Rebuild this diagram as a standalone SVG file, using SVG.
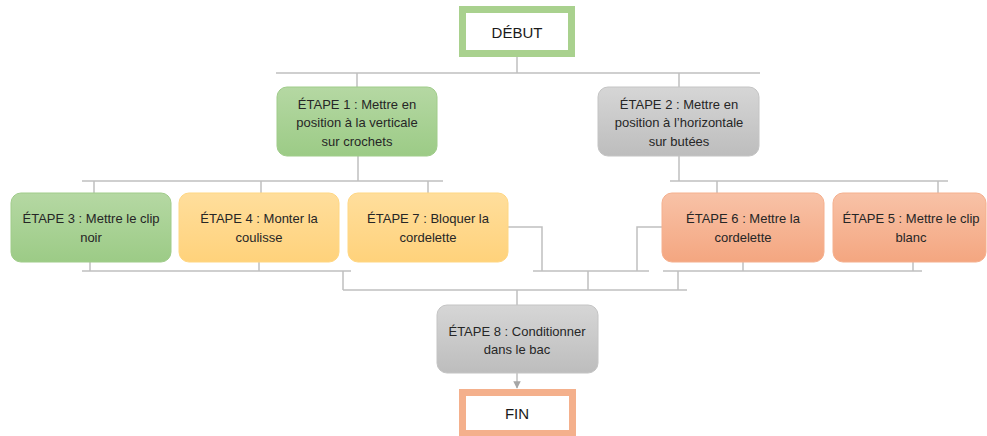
<svg xmlns="http://www.w3.org/2000/svg" width="987" height="436" viewBox="0 0 987 436">
<defs>
<linearGradient id="gGreen" x1="0" y1="0" x2="0" y2="1"><stop offset="0" stop-color="#b5d8a3"/><stop offset="1" stop-color="#9ccb86"/></linearGradient>
<linearGradient id="gGray" x1="0" y1="0" x2="0" y2="1"><stop offset="0" stop-color="#d6d6d6"/><stop offset="1" stop-color="#bdbdbd"/></linearGradient>
<linearGradient id="gYellow" x1="0" y1="0" x2="0" y2="1"><stop offset="0" stop-color="#ffde9c"/><stop offset="1" stop-color="#ffd27b"/></linearGradient>
<linearGradient id="gOrange" x1="0" y1="0" x2="0" y2="1"><stop offset="0" stop-color="#f8c2a7"/><stop offset="1" stop-color="#f4a680"/></linearGradient>
<marker id="arr" viewBox="0 0 10 10" refX="9" refY="5" markerWidth="5" markerHeight="5" orient="auto"><path d="M0,0 L10,5 L0,10 z" fill="#a6a6a6"/></marker>
</defs>
<style>
text{font-family:"Liberation Sans",Arial,sans-serif;font-size:13px;fill:#262626;text-anchor:middle}
.big{font-size:15px;fill:#1a1a1a}
.con{fill:none;stroke:#c0c0c0;stroke-width:1.5}
.green{fill:url(#gGreen);stroke:#a0cc8a;stroke-width:1}
.gray{fill:url(#gGray);stroke:#c4c4c4;stroke-width:1}
.yellow{fill:url(#gYellow);stroke:#ffd783;stroke-width:1}
.orange{fill:url(#gOrange);stroke:#f5b08e;stroke-width:1}
</style>
<rect width="987" height="436" fill="#ffffff"/>
<g id="connectors" class="con">
<path d="M517,57 V73 M276,73 H760 M357,73 V87 M679,73 V87"/>
<path d="M358,156 V181 M82,181 H443 M94,181 V193 M261,181 V193 M428,181 V193"/>
<path d="M679,156 V181 M670,181 H948 M717,181 V193 M938,181 V193"/>
<path d="M90,262 V271 M259,262 V271 M82,271 H351 M343,271 V290"/>
<path d="M508,227 H542 V271 M533,271 H649 M637,271 V227 H662 M588,271 V290"/>
<path d="M743,262 V271 M913,262 V271 M663,271 H922 M678,271 V290"/>
<path d="M343,290 H687 M517,290 V305"/>
<path d="M517,373 V388" marker-end="url(#arr)"/>
</g>
<g id="debut">
<rect x="462.5" y="9.5" width="109" height="44" fill="#ffffff" stroke="#a9d18e" stroke-width="7"/>
<text class="big" x="517" y="38">DÉBUT</text>
</g>
<g id="etape1">
<rect class="green" x="277" y="87" width="160" height="69" rx="10"/>
<text x="357" y="108.5">ÉTAPE 1 : Mettre en</text>
<text x="357" y="127">position à la verticale</text>
<text x="357" y="145.5">sur crochets</text>
</g>
<g id="etape2">
<rect class="gray" x="598" y="87" width="161" height="69" rx="10"/>
<text x="679" y="108.5">ÉTAPE 2 : Mettre en</text>
<text x="679" y="127">position à l’horizontale</text>
<text x="679" y="145.5">sur butées</text>
</g>
<g id="etape3">
<rect class="green" x="11" y="193" width="160" height="69" rx="10"/>
<text x="91" y="223">ÉTAPE 3 : Mettre le clip</text>
<text x="91" y="241.5">noir</text>
</g>
<g id="etape4">
<rect class="yellow" x="179" y="193" width="160" height="69" rx="10"/>
<text x="259" y="223">ÉTAPE 4 : Monter la</text>
<text x="259" y="241.5">coulisse</text>
</g>
<g id="etape7">
<rect class="yellow" x="348" y="193" width="160" height="69" rx="10"/>
<text x="428" y="223">ÉTAPE 7 : Bloquer la</text>
<text x="428" y="241.5">cordelette</text>
</g>
<g id="etape6">
<rect class="orange" x="662" y="193" width="162" height="69" rx="10"/>
<text x="743" y="223">ÉTAPE 6 : Mettre la</text>
<text x="743" y="241.5">cordelette</text>
</g>
<g id="etape5">
<rect class="orange" x="833" y="193" width="153" height="69" rx="10"/>
<text x="911" y="223">ÉTAPE 5 : Mettre le clip</text>
<text x="911" y="241.5">blanc</text>
</g>
<g id="etape8">
<rect class="gray" x="437" y="305" width="161" height="68" rx="10"/>
<text x="517" y="336">ÉTAPE 8 : Conditionner</text>
<text x="517" y="354">dans le bac</text>
</g>
<g id="fin">
<rect x="462.5" y="392.5" width="110" height="41" fill="#ffffff" stroke="#f4b08c" stroke-width="7"/>
<text class="big" x="517" y="418.5">FIN</text>
</g>
</svg>
